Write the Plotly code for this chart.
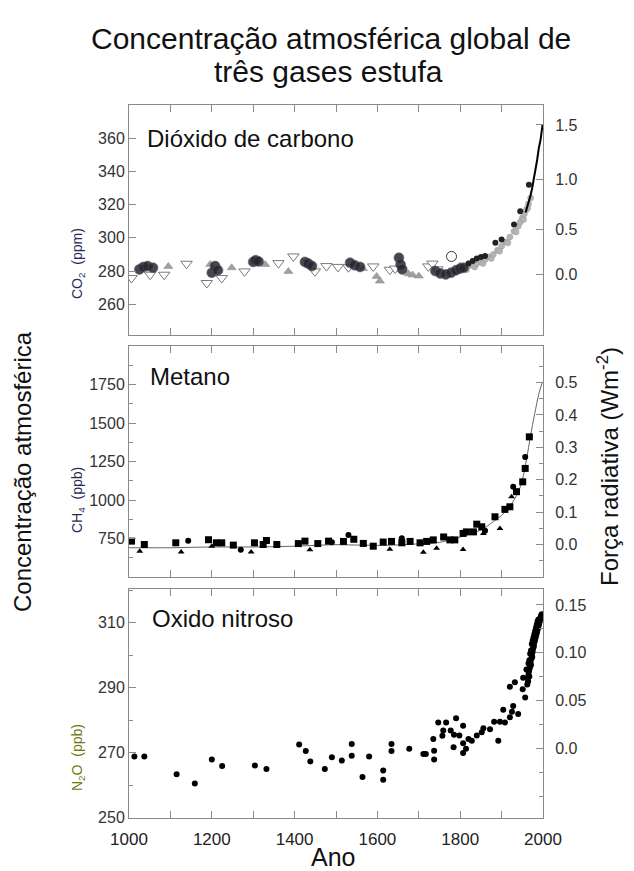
import math
import plotly.graph_objects as go

# ---------------- data ----------------
years_range = [1000, 2000]

# CO2 (ppm)
co2_tri_down_year = [1006, 1051, 1085, 1139, 1188, 1224, 1279, 1361, 1397, 1449, 1477, 1505, 1530, 1590, 1630, 1643, 1723, 1733, 1745]
co2_tri_down_ppm = [275.8, 277.8, 277.8, 284.4, 272.8, 275.8, 279.8, 284.8, 288.8, 279.8, 283.0, 282.5, 282.3, 282.8, 280.8, 281.5, 282.8, 284.5, 281.0]
co2_tri_up_year = [1095, 1196, 1248, 1329, 1385, 1565, 1598, 1606, 1675, 1685, 1700, 1800]
co2_tri_up_ppm = [282.8, 284.0, 282.0, 284.0, 279.8, 281.5, 276.8, 274.0, 278.4, 277.6, 277.0, 283.0]
co2_circle_year = [1025, 1035, 1045, 1058, 1200, 1208, 1215, 1300, 1306, 1313, 1425, 1433, 1442, 1534, 1545, 1558,
                   1652, 1656, 1660, 1740, 1752, 1765, 1778, 1790, 1800, 1808]
co2_circle_ppm = [281.0, 282.5, 283.0, 282.0, 279.0, 283.0, 280.5, 285.5, 286.5, 285.8, 285.5, 284.5, 283.0, 285.0, 283.5, 282.5,
                  288.0, 284.0, 281.0, 280.0, 278.5, 278.0, 279.0, 280.5, 281.5, 282.0]
co2_open_circle_year = [1779]
co2_open_circle_ppm = [288.8]
co2_firn_year = [1790, 1800, 1810, 1815, 1820, 1830, 1835, 1840, 1850, 1855, 1860, 1870, 1875, 1880, 1890, 1895, 1900, 1910,
                 1915, 1920, 1930, 1935, 1940, 1945, 1950, 1953, 1955, 1960, 1963, 1965, 1970]
co2_firn_ppm = [279.5, 281.0, 282.0, 280.8, 283.0, 283.5, 282.5, 284.5, 285.5, 284.6, 287.0, 288.5, 287.6, 290.0, 292.5, 292.0,
                295.0, 297.5, 297.0, 300.5, 304.0, 303.5, 307.0, 309.5, 312.0, 311.0, 314.5, 317.0, 318.0, 320.5, 324.0]
co2_ice_dark_year = [1820, 1830, 1840, 1850, 1860, 1885, 1900, 1930, 1945, 1966]
co2_ice_dark_ppm = [284.5, 286.0, 287.5, 288.5, 289.0, 297.0, 299.0, 308.0, 316.0, 332.0]
co2_mlo_year = [1958, 1962, 1966, 1970, 1974, 1978, 1982, 1986, 1990, 1994, 1999]
co2_mlo_ppm = [315.3, 318.5, 321.4, 325.7, 330.2, 335.4, 341.1, 347.2, 354.2, 358.9, 368.4]

# CH4 (ppb)
ch4_sq_year = [1006, 1037, 1113, 1192, 1211, 1224, 1252, 1303, 1324, 1332, 1357, 1409, 1425, 1456, 1482, 1518, 1543, 1566,
               1590, 1614, 1634, 1659, 1679, 1703, 1719, 1735, 1760, 1775, 1787, 1807, 1815, 1832, 1840, 1852, 1884, 1908,
               1920, 1936, 1951, 1957, 1967]
ch4_sq_ppb = [733, 711, 722, 742, 722, 722, 707, 722, 711, 737, 711, 717, 733, 717, 733, 731, 745, 718,
              700, 727, 731, 722, 731, 722, 731, 741, 760, 741, 741, 783, 793, 793, 843, 826, 891, 939,
              956, 1054, 1118, 1205, 1410]
ch4_tri_year = [1026, 1126, 1200, 1295, 1437, 1630, 1711, 1743, 1807, 1856, 1896, 1924]
ch4_tri_ppb = [668, 662, 700, 662, 677, 680, 661, 687, 679, 783, 815, 1021]
ch4_dot_year = [1143, 1270, 1490, 1530, 1659, 1860, 1928, 1957]
ch4_dot_ppb = [735, 677, 726, 772, 752, 800, 1086, 1280]
ch4_fit_year = [1000, 1100, 1200, 1300, 1400, 1500, 1600, 1700, 1750, 1800, 1850, 1880, 1900, 1920, 1940, 1950, 1960,
                1970, 1980, 1990, 1998]
ch4_fit_ppb = [690, 690, 695, 695, 700, 710, 705, 715, 725, 760, 805, 860, 900, 960, 1050, 1130, 1260,
               1420, 1560, 1690, 1760]

# N2O (ppb)
n2o_year = [1013, 1037, 1115, 1159, 1200, 1225, 1304, 1332, 1411, 1427, 1438, 1473, 1490, 1514, 1538, 1538, 1564, 1580,
            1614, 1614, 1634, 1634, 1677, 1711, 1717, 1737, 1737, 1735, 1747, 1759, 1757, 1766, 1777, 1784, 1785, 1790,
            1798, 1807, 1807, 1807, 1814, 1820, 1828, 1840, 1852, 1856, 1872, 1882, 1892, 1896, 1904, 1908, 1920, 1925,
            1928, 1932, 1920, 1940, 1951, 1952, 1957, 1960,
            1962, 1963, 1964, 1965, 1966, 1967, 1968, 1969, 1970, 1971, 1972, 1973, 1974, 1975, 1976, 1977, 1978, 1979,
            1980, 1981, 1982, 1983, 1984, 1985, 1986, 1987, 1988, 1989, 1990, 1991, 1992, 1993, 1994, 1995, 1996, 1997,
            1963, 1965, 1967, 1969, 1971, 1973, 1975, 1977, 1979, 1981, 1983, 1985, 1987, 1989]
n2o_ppb = [268.8, 268.8, 263.4, 260.5, 267.9, 265.9, 266.1, 265.0, 272.5, 270.5, 267.3, 265.0, 268.6, 267.6, 272.7, 269.1, 262.5, 268.8,
           264.5, 261.7, 272.7, 270.5, 271.2, 269.6, 269.6, 270.6, 267.9, 274.2, 279.3, 276.8, 275.2, 279.3, 276.8, 271.7, 275.5, 280.6,
           275.3, 278.3, 272.9, 269.9, 271.2, 274.2, 273.7, 275.3, 276.3, 277.5, 277.2, 279.5, 273.7, 279.5, 283.2, 279.3, 280.9, 282.6,
           284.4, 291.7, 290.3, 281.9, 289.5, 293.1, 287.0, 295.6,
           291.0, 293.0, 292.0, 294.0, 295.0, 293.5, 296.0, 297.0, 298.0, 297.0, 299.0, 300.0, 299.5, 301.0, 302.0, 302.5, 303.0, 304.0,
           304.5, 305.0, 305.5, 306.0, 306.5, 307.0, 307.5, 308.0, 308.5, 309.0, 309.5, 310.0, 310.5, 311.0, 311.5, 312.0, 312.3, 312.6,
           295.5, 297.5, 298.5, 300.5, 301.5, 303.5, 304.5, 305.5, 306.5, 307.5, 308.5, 309.5, 310.5, 311.0]

# axis ticks / labels
co2_ticks = [260, 280, 300, 320, 340, 360]
ch4_ticks = [750, 1000, 1250, 1500, 1750]
n2o_ticks = [250, 270, 290, 310]
co2_forcing_labels = ["0.0", "0.5", "1.0", "1.5"]
ch4_forcing_labels = ["0.0", "0.1", "0.2", "0.3", "0.4", "0.5"]
n2o_forcing_labels = ["0.0", "0.05", "0.10", "0.15"]


# forcing -> concentration (for the right-hand axes)
def co2_conc(f):
    return 278.0 * math.exp(f / 5.35)


def ch4_conc(f):
    return 711.0 + f * 2104.0


def n2o_conc(f):
    return 271.2 + f * 295.3


W, H = 634, 871


def px(x):
    return x / W


def py(y):
    return 1 - y / H


FONT = "Liberation Sans, Arial, Helvetica, sans-serif"
AX = "#8a8a8a"

fig = go.Figure()

# ---------------- CO2 panel ----------------
fig.add_trace(go.Scatter(x=co2_firn_year, y=co2_firn_ppm, mode="markers", xaxis="x", yaxis="y",
                         marker=dict(symbol="circle", size=6, color="#b4b4b4", line=dict(width=0.5, color="#999"))))
fig.add_trace(go.Scatter(x=co2_tri_down_year, y=co2_tri_down_ppm, mode="markers", xaxis="x", yaxis="y",
                         marker=dict(symbol="triangle-down", size=10, color="white", line=dict(width=1, color="#7a7a7a"))))
fig.add_trace(go.Scatter(x=co2_tri_up_year, y=co2_tri_up_ppm, mode="markers", xaxis="x", yaxis="y",
                         marker=dict(symbol="triangle-up", size=8, color="#a0a0a0", line=dict(width=0.5, color="#888"))))
fig.add_trace(go.Scatter(x=co2_circle_year, y=co2_circle_ppm, mode="markers", xaxis="x", yaxis="y",
                         marker=dict(symbol="circle", size=10, color="#262632", opacity=0.85,
                                     line=dict(width=0.6, color="#555"))))
fig.add_trace(go.Scatter(x=co2_open_circle_year, y=co2_open_circle_ppm, mode="markers", xaxis="x", yaxis="y",
                         marker=dict(symbol="circle", size=10, color="white", line=dict(width=1, color="#333"))))
fig.add_trace(go.Scatter(x=co2_ice_dark_year, y=co2_ice_dark_ppm, mode="markers", xaxis="x", yaxis="y",
                         marker=dict(symbol="circle", size=6, color="#222")))
fig.add_trace(go.Scatter(x=co2_mlo_year, y=co2_mlo_ppm, mode="lines", xaxis="x", yaxis="y",
                         line=dict(color="black", width=2)))
fig.add_trace(go.Scatter(x=[1000], y=[300], mode="markers", xaxis="x", yaxis="y2",
                         marker=dict(opacity=0), hoverinfo="skip"))

# ---------------- CH4 panel ----------------
fig.add_trace(go.Scatter(x=ch4_fit_year, y=ch4_fit_ppb, mode="lines", xaxis="x2", yaxis="y3",
                         line=dict(color="#666", width=1, shape="spline")))
fig.add_trace(go.Scatter(x=ch4_sq_year, y=ch4_sq_ppb, mode="markers", xaxis="x2", yaxis="y3",
                         marker=dict(symbol="square", size=7, color="black")))
fig.add_trace(go.Scatter(x=ch4_tri_year, y=ch4_tri_ppb, mode="markers", xaxis="x2", yaxis="y3",
                         marker=dict(symbol="triangle-up", size=6, color="black")))
fig.add_trace(go.Scatter(x=ch4_dot_year, y=ch4_dot_ppb, mode="markers", xaxis="x2", yaxis="y3",
                         marker=dict(symbol="circle", size=6, color="black")))
fig.add_trace(go.Scatter(x=[1000], y=[1000], mode="markers", xaxis="x2", yaxis="y4",
                         marker=dict(opacity=0), hoverinfo="skip"))

# ---------------- N2O panel ----------------
fig.add_trace(go.Scatter(x=n2o_year, y=n2o_ppb, mode="markers", xaxis="x3", yaxis="y5",
                         marker=dict(symbol="circle", size=6, color="black")))
fig.add_trace(go.Scatter(x=[1000], y=[280], mode="markers", xaxis="x3", yaxis="y6",
                         marker=dict(opacity=0), hoverinfo="skip"))

# ---------------- axes ----------------
tickfont = dict(family=FONT, size=16, color="#333")
common = dict(showline=True, linecolor=AX, linewidth=1, ticks="inside", tickcolor=AX, ticklen=7,
              showgrid=False, zeroline=False, tickfont=tickfont, automargin=False)
xdom = [px(129), px(543)]
doms = {
    1: [py(335), py(105)],
    2: [py(577), py(346)],
    3: [py(818), py(589)],
}
xminor = dict(dtick=100, ticks="inside", ticklen=4, tickcolor=AX)

layout = dict(
    width=W, height=H, margin=dict(l=0, r=0, t=0, b=0, autoexpand=False),
    paper_bgcolor="white", plot_bgcolor="white", showlegend=False,
    xaxis=dict(common, domain=xdom, anchor="y", range=years_range, tick0=1000, dtick=200, minor=xminor,
               mirror="allticks", showticklabels=False),
    xaxis2=dict(common, domain=xdom, anchor="y3", range=years_range, tick0=1000, dtick=200, minor=xminor,
                mirror="allticks", showticklabels=False),
    xaxis3=dict(common, domain=xdom, anchor="y5", range=years_range, tick0=1000, dtick=200, minor=xminor,
                mirror="allticks", showticklabels=True, tickfont=dict(family=FONT, size=17, color="#222"),
                ticklabelstandoff=6),
)

co2_range = [241.5, 380]
ch4_range = [500, 2000]
n2o_range = [249.9, 320.4]

layout["yaxis"] = dict(common, domain=doms[1], anchor="x", range=co2_range, tickvals=co2_ticks)
co2_f = [float(s) for s in co2_forcing_labels]
layout["yaxis2"] = dict(common, domain=doms[1], anchor="x", overlaying="y", side="right", range=co2_range,
                        tickvals=[co2_conc(f) for f in co2_f], ticktext=co2_forcing_labels, ticklabelstandoff=8)

layout["yaxis3"] = dict(common, domain=doms[2], anchor="x2", range=ch4_range, tickvals=ch4_ticks,
                        minor=dict(dtick=125, tick0=0, ticks="inside", ticklen=4, tickcolor=AX))
ch4_f = [float(s) for s in ch4_forcing_labels]
ch4_minor_f = [(a + b) / 2 for a, b in zip(ch4_f[:-1], ch4_f[1:])] + [ch4_f[0] - 0.05, ch4_f[-1] + 0.05]
layout["yaxis4"] = dict(common, domain=doms[2], anchor="x2", overlaying="y3", side="right", range=ch4_range,
                        tickvals=[ch4_conc(f) for f in ch4_f], ticktext=ch4_forcing_labels, ticklabelstandoff=8,
                        minor=dict(tickmode="array", tickvals=[ch4_conc(f) for f in ch4_minor_f],
                                   ticks="inside", ticklen=4, tickcolor=AX))

layout["yaxis5"] = dict(common, domain=doms[3], anchor="x3", range=n2o_range, tickvals=n2o_ticks,
                        minor=dict(dtick=10, tick0=0, ticks="inside", ticklen=4, tickcolor=AX))
n2o_f = [float(s) for s in n2o_forcing_labels]
n2o_minor_f = [(a + b) / 2 for a, b in zip(n2o_f[:-1], n2o_f[1:])] + [n2o_f[0] - 0.025, n2o_f[0] - 0.05]
layout["yaxis6"] = dict(common, domain=doms[3], anchor="x3", overlaying="y5", side="right", range=n2o_range,
                        tickvals=[n2o_conc(f) for f in n2o_f], ticktext=n2o_forcing_labels, ticklabelstandoff=8,
                        minor=dict(tickmode="array", tickvals=[n2o_conc(f) for f in n2o_minor_f],
                                   ticks="inside", ticklen=4, tickcolor=AX))

fig.update_layout(**layout)


def ann(text, x, y, size, color="#111", angle=0, xanchor="center", yanchor="middle"):
    fig.add_annotation(text=text, x=px(x), y=py(y), xref="paper", yref="paper", showarrow=False,
                       textangle=angle, xanchor=xanchor, yanchor=yanchor,
                       font=dict(family=FONT, size=size, color=color))


ann("Concentração atmosférica global de", 331, 38, 30)
ann("três gases estufa", 328, 72, 30)
ann("Dióxido de carbono", 145, 138, 24, xanchor="left")
ann("Metano", 148, 377, 24, xanchor="left")
ann("Oxido nitroso", 150, 618, 24, xanchor="left")
ann("Concentração atmosférica", 22, 472, 24, angle=-90)
ann("Força radiativa (Wm<sup>-2</sup>)", 608, 467, 24, angle=-90)
ann("Ano", 333, 857, 25)
ann("CO<sub>2</sub>  (ppm)", 78, 264, 14, color="#2a2a5a", angle=-90)
ann("CH<sub>4</sub>  (ppb)", 78, 500, 14, color="#2a2a5a", angle=-90)
ann("N<sub>2</sub>O  (ppb)", 78, 758, 14, color="#6b7a10", angle=-90)

fig.write_html("out.html")
